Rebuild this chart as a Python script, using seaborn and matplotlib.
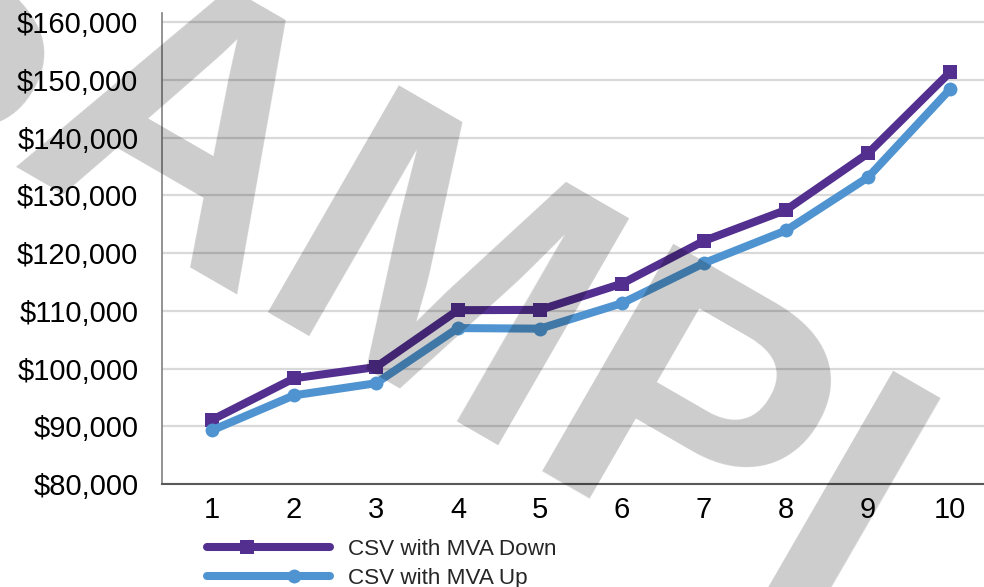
import numpy as np
import pandas as pd
import matplotlib
matplotlib.use("Agg")
import matplotlib.pyplot as plt
import seaborn as sns
from matplotlib.lines import Line2D
from matplotlib.legend_handler import HandlerLine2D
from matplotlib.ticker import StrMethodFormatter, FixedLocator

# ---- data -------------------------------------------------------------
years = list(range(1, 11))
csv_mva_down = [91100, 98300, 100250, 110100, 110150, 114700, 122100, 127450, 137250, 151300]
csv_mva_up = [89300, 95350, 97450, 107000, 106900, 111300, 118250, 123900, 133100, 148350]
series_names = ["CSV with MVA Down", "CSV with MVA Up"]
y_ticks = [80000, 90000, 100000, 110000, 120000, 130000, 140000, 150000, 160000]

df = pd.DataFrame({
    "Year": years * 2,
    "Value": csv_mva_down + csv_mva_up,
    "Series": [series_names[0]] * len(years) + [series_names[1]] * len(years),
})

colors = {series_names[0]: "#532f8f", series_names[1]: "#4f94d0"}
markers = {series_names[0]: "s", series_names[1]: "o"}

# ---- style ------------------------------------------------------------
sns.set_theme(style="white")
plt.rcParams["font.family"] = ["Liberation Sans", "DejaVu Sans"]

fig = plt.figure(figsize=(9.84, 5.87), dpi=100)
ax = fig.add_axes([0.1646, 0.17547, 0.8354, 0.80238])

sns.lineplot(
    data=df, x="Year", y="Value", hue="Series", style="Series",
    hue_order=series_names, style_order=series_names,
    palette=colors, markers=markers, dashes=False,
    linewidth=5.8, markersize=10, markeredgewidth=0,
    legend=False, sort=False, ax=ax,
)

ax.set_xlim(0.39, 10.415)
ax.set_ylim(80000, 161560)
ax.xaxis.set_major_locator(FixedLocator(years))
ax.yaxis.set_major_locator(FixedLocator(y_ticks))
ax.yaxis.set_major_formatter(StrMethodFormatter("${x:,.0f}"))
ax.set_xlabel("")
ax.set_ylabel("")

ax.set_axisbelow(True)
ax.yaxis.grid(True, color="#d9d9d9", linewidth=1.6)
ax.xaxis.grid(False)

for side in ("top", "right"):
    ax.spines[side].set_visible(False)
ax.spines["left"].set_color("#808080")
ax.spines["left"].set_linewidth(1.2)
ax.spines["bottom"].set_color("#595959")
ax.spines["bottom"].set_linewidth(1.5)

ax.tick_params(axis="both", length=0, labelsize=21, colors="black")
ax.tick_params(axis="y", pad=17)
ax.tick_params(axis="x", pad=9)


# ---- legend: marker placed part-way along each handle ------------------
class MarkerAtFraction(HandlerLine2D):
    def __init__(self, frac, **kw):
        super().__init__(**kw)
        self.frac = frac

    def create_artists(self, legend, orig_handle, xdescent, ydescent,
                       width, height, fontsize, trans):
        artists = super().create_artists(legend, orig_handle, xdescent, ydescent,
                                         width, height, fontsize, trans)
        xm = -xdescent + width * self.frac
        for a in artists:
            xd = np.asarray(a.get_xdata(), float)
            if len(xd) == 3:
                a.set_xdata([xd[0], xm, xd[-1]])
            elif len(xd) == 1:
                a.set_xdata([xm])
        return artists


h_down = Line2D([], [], color=colors[series_names[0]], lw=5.8,
                marker=markers[series_names[0]], markersize=10, markeredgewidth=0)
h_up = Line2D([], [], color=colors[series_names[1]], lw=5.8,
              marker=markers[series_names[1]], markersize=10, markeredgewidth=0)
fig.legend(
    [h_down, h_up], series_names,
    handler_map={h_down: MarkerAtFraction(0.33), h_up: MarkerAtFraction(0.71)},
    loc="upper left", bbox_to_anchor=(0.2104, 0.0825),
    frameon=False, borderpad=0, borderaxespad=0,
    handlelength=5.45, handletextpad=0.8, labelspacing=0.38,
    fontsize=16.2, numpoints=1,
)

# ---- watermark --------------------------------------------------------
fig.text(522 / 984, 1 - 352 / 587, "SAMPLE", rotation=-30, rotation_mode="anchor",
         ha="center", va="center", fontsize=274, fontweight="bold",
         family=["Liberation Sans", "DejaVu Sans"], color="black", alpha=0.2,
         zorder=20)

fig.savefig("out.png", dpi=100)
